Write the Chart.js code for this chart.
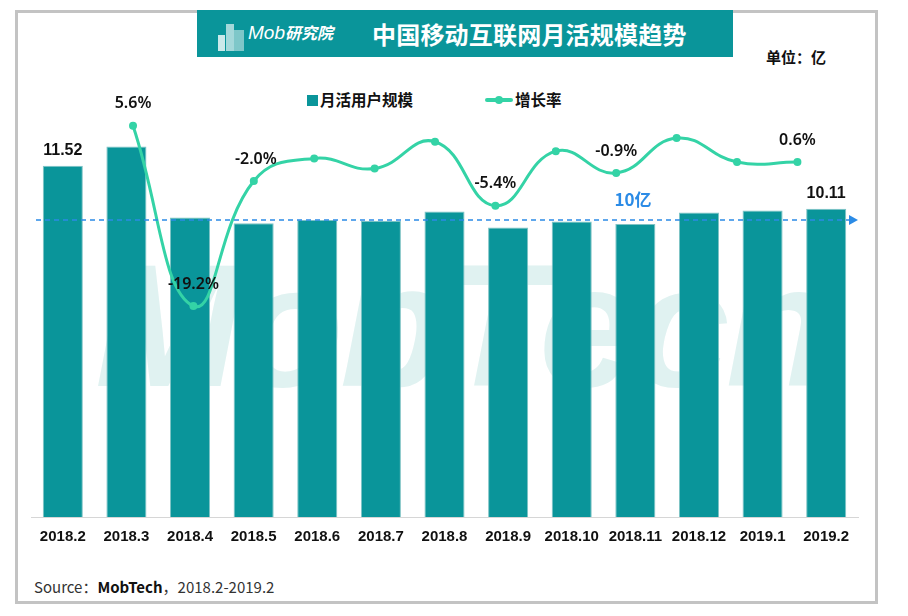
<!DOCTYPE html>
<html>
<head>
<meta charset="utf-8">
<script src="https://cdn.jsdelivr.net/npm/chart.js@4.4.1/dist/chart.umd.min.js"></script>
<style>
  html, body { margin: 0; padding: 0; background: #fff; }
  body { width: 908px; height: 616px; position: relative; overflow: hidden;
         font-family: "Noto Sans CJK SC", "Noto Sans", sans-serif; }
  .frame { position: absolute; left: 15px; top: 10px; width: 857px; height: 588px;
           border: 3px solid #c3c3c3; }
  .banner { position: absolute; left: 197px; top: 10px; width: 536px; height: 47px;
            background: #0a959a; }
  .banner .title { position: absolute; left: 175px; top: 6px; color: #fff;
                   font-size: 24px; font-weight: bold; letter-spacing: 0.2px; }
  .banner .logo { position: absolute; left: 51px; top: 10px; color: #fff;
                  font-size: 19px; font-style: italic; font-family: "Liberation Sans", sans-serif; }
  .banner .logo span { font-family: "Noto Sans CJK SC"; font-size: 16px; font-weight: bold; }
  .bld { position: absolute; background: #cbe9ea; }
  .watermark { position: absolute; left: 95px; top: 225px; font-size: 175px; font-weight: bold;
               font-style: italic; color: #e0f2f1; font-family: "Liberation Sans", sans-serif;
               letter-spacing: -4px; }
  canvas { position: absolute; left: 0; top: 0; }
  .unit { position: absolute; left: 766px; top: 46px; font-size: 15px; font-weight: bold; color: #111; }
  .legend { position: absolute; top: 88px; font-size: 15.5px; font-weight: bold; color: #111; }
  .sw { position: absolute; left: 307px; top: 95px; width: 11px; height: 11px; background: #0a959a; }
  .ln { position: absolute; left: 485px; top: 98px; width: 28px; height: 4px; background: #34d3a6; border-radius: 2px; }
  .dot { position: absolute; left: 495px; top: 96px; width: 8px; height: 8px; background: #34d3a6; border-radius: 50%; }
  .source { position: absolute; left: 34px; top: 576px; font-size: 15px; color: #333;
            font-family: "Noto Sans CJK SC", sans-serif; }
  .source b { color: #111; }
</style>
</head>
<body>
<div class="watermark">MobTech</div>
<div class="frame"></div>
<div class="banner">
  <div class="bld" style="left:21px;top:25px;width:7px;height:16px;"></div>
  <div class="bld" style="left:29px;top:14px;width:8px;height:27px;opacity:.8"></div>
  <div class="bld" style="left:37px;top:20px;width:10px;height:21px;opacity:.6"></div>
  <div class="logo">Mob<span>研究院</span></div>
  <div class="title">中国移动互联网月活规模趋势</div>
</div>
<div class="unit">单位：亿</div>
<div class="sw"></div><div class="legend" style="left:320px;">月活用户规模</div>
<div class="ln"></div><div class="dot"></div><div class="legend" style="left:515px;">增长率</div>
<div class="source">Source：<b>MobTech</b>，2018.2-2019.2</div>
<canvas id="chart" width="908" height="616"></canvas>
<script>
// ── Data ──────────────────────────────────────────────────────────────────
const MONTHS = ['2018.2', '2018.3', '2018.4', '2018.5', '2018.6', '2018.7', '2018.8',
                '2018.9', '2018.10', '2018.11', '2018.12', '2019.1', '2019.2'];
const MAU    = [11.52, 12.15, 9.82, 9.63, 9.74, 9.71, 10.02, 9.49, 9.69, 9.61, 9.98, 10.05, 10.11];
const GROWTH = [null, 5.6, -19.2, -2.0, 1.1, -0.3, 3.4, -5.4, 2.1, -0.9, 3.9, 0.6, 0.6];
const BAR_LABEL_IDX  = [0, 12];
const LINE_LABEL_IDX = [1, 2, 3, 7, 9, 12];
const REF_VALUE = 9.74;
const REF_LABEL = '10亿';

const TEAL = '#0a959a';
const MINT = '#34d3a6';
const BLUE = '#2b8be6';

// ── Labels + reference line plugin ────────────────────────────────────────
const overlay = {
  id: 'overlay',
  afterDatasetsDraw(chart) {
    const { ctx, chartArea, scales } = chart;
    ctx.save();

    // dashed 10亿 line with arrow
    const y = scales.y.getPixelForValue(REF_VALUE);
    ctx.strokeStyle = BLUE; ctx.lineWidth = 1.5;
    ctx.setLineDash([5, 4]);
    ctx.beginPath(); ctx.moveTo(36, y); ctx.lineTo(chartArea.right - 6, y); ctx.stroke();
    ctx.setLineDash([]);
    ctx.fillStyle = BLUE;
    ctx.beginPath();
    ctx.moveTo(chartArea.right, y); ctx.lineTo(chartArea.right - 9, y - 5); ctx.lineTo(chartArea.right - 9, y + 5);
    ctx.closePath(); ctx.fill();
    ctx.font = 'bold 17px "Noto Sans CJK SC"';
    ctx.textAlign = 'center'; ctx.textBaseline = 'middle';
    ctx.fillText(REF_LABEL, 633, y - 20);

    ctx.fillStyle = '#111';
    // bar labels
    const bars = chart.getDatasetMeta(0).data;
    ctx.font = 'bold 16px "Liberation Sans"';
    BAR_LABEL_IDX.forEach(i => {
      ctx.fillText(MAU[i].toFixed(2), bars[i].x, bars[i].y - 15);
    });
    // growth labels
    const pts = chart.getDatasetMeta(1).data;
    ctx.font = '600 16px "Noto Sans"';
    LINE_LABEL_IDX.forEach(i => {
      const p = pts[i - 1];
      const dx = i === 3 ? 2 : 0;
      ctx.fillText(GROWTH[i].toFixed(1) + '%', p.x + dx, p.y - 22);
    });
    ctx.restore();
  }
};

const linePoints = GROWTH.map((v, i) => ({ x: i, y: v })).filter(p => p.y !== null);

new Chart(document.getElementById('chart'), {
  type: 'bar',
  data: {
    labels: MONTHS,
    datasets: [
      {
        type: 'bar',
        label: '月活用户规模',
        data: MAU,
        backgroundColor: TEAL,
        borderColor: '#7fc3c5',
        borderWidth: { top: 1, left: 1, right: 1, bottom: 0 },
        barPercentage: 0.63,
        categoryPercentage: 1,
        grouped: false,
        xAxisID: 'x', yAxisID: 'y',
        order: 2,
      },
      {
        type: 'line',
        label: '增长率',
        data: linePoints,
        borderColor: MINT,
        backgroundColor: MINT,
        borderWidth: 3,
        tension: 0.45,
        pointRadius: 4,
        pointBackgroundColor: MINT,
        pointBorderWidth: 0,
        xAxisID: 'x2', yAxisID: 'y2',
        order: 1,
      },
    ]
  },
  options: {
    responsive: false,
    animation: false,
    layout: { padding: { left: 31, right: 50, top: 90, bottom: 59 } },
    plugins: { legend: { display: false }, tooltip: { enabled: false } },
    scales: {
      x: {
        grid: { display: false, drawTicks: false },
        border: { display: true, color: '#d6d6d6', width: 1 },
        ticks: { padding: 11, color: '#111', font: { family: 'Liberation Sans', size: 15, weight: 'bold' },
                 maxRotation: 0, autoSkip: false },
      },
      x2: { type: 'linear', display: false, offset: false, min: -0.689, max: 13.003 },
      y:  { display: false, min: 0, max: 14 },
      y2: { display: false, min: -48.22, max: 10.51 },
    }
  },
  plugins: [overlay]
});
</script>
</body>
</html>
